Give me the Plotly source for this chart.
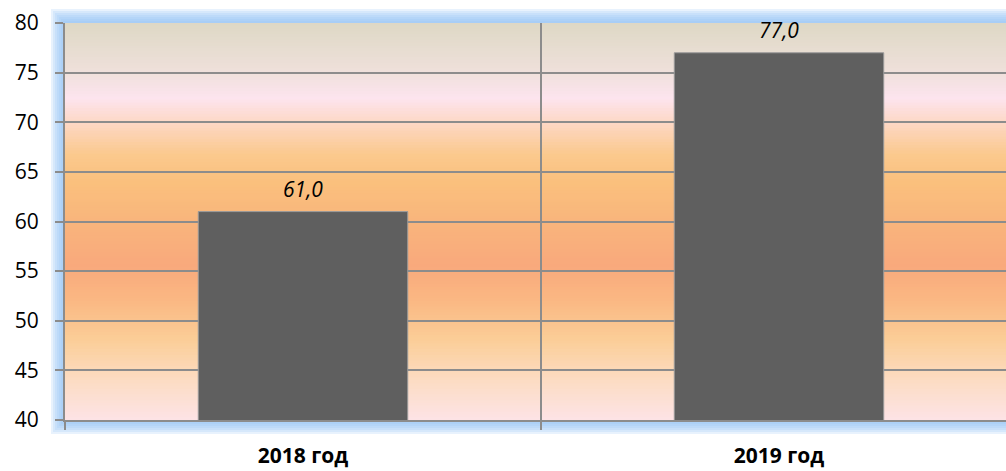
import plotly.graph_objects as go

categories = ["2018 год", "2019 год"]
values = [61.0, 77.0]
value_labels = ["61,0", "77,0"]
y_ticks = [40, 45, 50, 55, 60, 65, 70, 75, 80]

# plot-area geometry (pixels)
L, T, R, B = 65, 23, 0, 51
W, H = 1006, 471
PW, PH = W - L - R, H - T - B

fig = go.Figure()
fig.add_trace(go.Bar(
    x=categories, y=values, width=0.44,
    marker=dict(color="#5f5f5f", line=dict(color="#9a9a9a", width=1)),
    hoverinfo="skip",
))

shapes = []
# blue glow around the plot area
for k in range(7, 0, -1):
    dx = 2 * k / PW
    dy = 2 * k / PH
    shapes.append(dict(type="rect", xref="paper", yref="paper",
                       x0=-dx, x1=1.2, y0=-dy, y1=1 + dy, layer="below",
                       line=dict(width=0), fillcolor="rgba(150,195,245,0.22)"))

# background gradient (top -> bottom)
stops = [
    (0.00, (221, 216, 197)),
    (0.12, (238, 224, 218)),
    (0.19, (253, 228, 238)),
    (0.25, (253, 216, 198)),
    (0.33, (251, 201, 142)),
    (0.40, (250, 192, 125)),
    (0.50, (249, 181, 124)),
    (0.61, (249, 169, 124)),
    (0.70, (250, 184, 131)),
    (0.80, (251, 206, 152)),
    (0.90, (252, 220, 195)),
    (1.00, (253, 227, 230)),
]

def col(f):
    for (a, ca), (b, cb) in zip(stops[:-1], stops[1:]):
        if a <= f <= b:
            t = (f - a) / (b - a) if b > a else 0
            c = [round(ca[i] + (cb[i] - ca[i]) * t) for i in range(3)]
            return "rgb(%d,%d,%d)" % tuple(c)
    return "rgb(%d,%d,%d)" % stops[-1][1]

N = 140
for i in range(N):
    f0 = i / N
    f1 = (i + 1) / N
    shapes.append(dict(type="rect", xref="paper", yref="paper",
                       x0=0, x1=1.2, y0=1 - f1 - 0.002, y1=1 - f0, layer="below",
                       line=dict(width=0), fillcolor=col((f0 + f1) / 2)))

annotations = []
for cat, v, lab in zip(categories, values, value_labels):
    annotations.append(dict(x=cat, y=v, text=lab, showarrow=False, yshift=23,
                            font=dict(family="Open Sans", size=21, color="#000000",
                                      style="italic")))

fig.update_layout(
    width=W, height=H,
    margin=dict(l=L, r=R, t=T, b=B, pad=0),
    paper_bgcolor="white",
    plot_bgcolor="rgba(0,0,0,0)",
    showlegend=False,
    shapes=shapes,
    annotations=annotations,
)
fig.update_xaxes(
    type="category",
    range=[-0.5, -0.5 + PW / 476],
    tickson="boundaries", ticks="outside", ticklen=8, tickwidth=2, tickcolor="#8c8c8c",
    showgrid=True, gridcolor="#8c8c8c", gridwidth=2,
    showline=True, linecolor="#8c8c8c", linewidth=2,
    tickfont=dict(family="Open Sans", size=21, color="#000000", weight="bold"),
    ticklabelstandoff=16, zeroline=False, fixedrange=True,
)
fig.update_yaxes(
    range=[40, 80], tickvals=y_ticks, ticks="outside", ticklen=8, tickwidth=2,
    tickcolor="#8c8c8c", showgrid=True, gridcolor="#8c8c8c", gridwidth=2,
    showline=True, linecolor="#8c8c8c", linewidth=2, zeroline=False,
    tickfont=dict(family="Open Sans", size=21, color="#000000"),
    ticklabelstandoff=12, fixedrange=True,
)

fig.write_html("out.html", config={"displayModeBar": False},
               post_script="document.body.style.margin='0px';")
